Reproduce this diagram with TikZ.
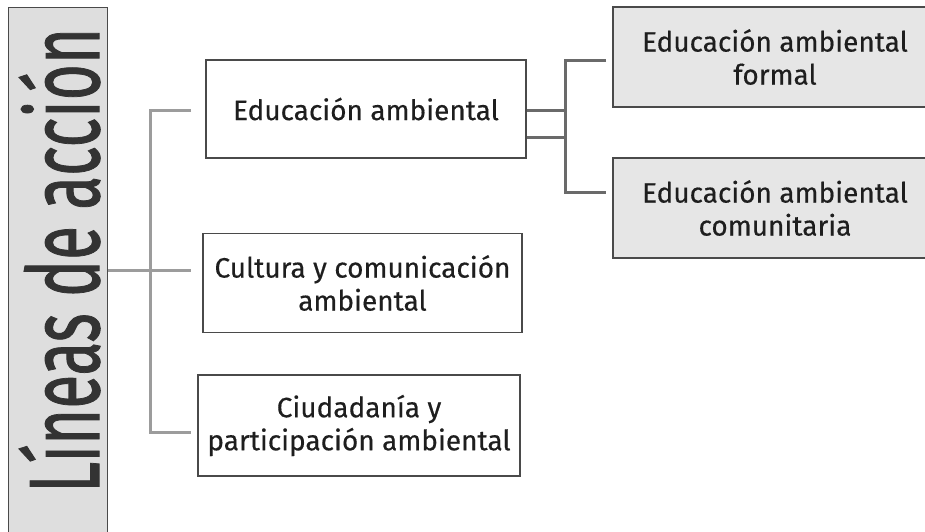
\documentclass[tikz,border=0pt]{standalone}
\usepackage{fontspec}
\setmainfont{Fira Sans}
\newfontfamily\titlefont[FakeBold=1.2]{Fira Sans}
\newfontfamily\boxfont[FakeBold=0.4]{Fira Sans}
\definecolor{boxline}{HTML}{4A4A4A}
\definecolor{grayfill}{HTML}{E6E6E6}
\definecolor{titlefill}{HTML}{DEDEDE}
\definecolor{txt}{HTML}{1E1E1E}
\definecolor{titletxt}{HTML}{333333}
\definecolor{llink}{HTML}{9C9C9C}
\definecolor{rlinkc}{HTML}{6A6A6A}
\begin{document}
\begin{tikzpicture}[x=1pt,y=-1pt,
  box/.style={draw=boxline, line width=1.1pt, fill=white, inner sep=0pt,
    align=center, text=txt, font=\boxfont\fontsize{28}{33}\selectfont},
  graybox/.style={box, fill=grayfill},
  link/.style={draw=llink, line width=3pt},
  rlink/.style={draw=rlinkc, line width=3pt}]
\useasboundingbox (0,0) rectangle (925,531);
\clip (0,0) rectangle (925,531);
\fill[white] (0,0) rectangle (925,531);
% title box
\node[box, fill=titlefill, minimum width=99pt, minimum height=540pt, anchor=north west] (la) at (8,7) {};
\node[rotate=90, anchor=base west, inner sep=0pt, text=titletxt] (lt) at (99,493)
  {\resizebox{465pt}{80pt}{\titlefont Líneas de acción}};
% level 1
\node[box, minimum width=320pt, minimum height=98pt] (ea) at (366,109) {Educación ambiental};
\node[box, minimum width=319pt, minimum height=99pt] (cc) at (362.5,283) {Cultura y comunicación\\ambiental};
\node[box, minimum width=322pt, minimum height=101pt] (cp) at (359,425.5) {Ciudadanía y\\participación ambiental};
% level 2
\node[graybox, minimum width=324pt, minimum height=100pt] (ef) at (775,57) {Educación ambiental\\formal};
\node[graybox, minimum width=324pt, minimum height=100pt] (ec) at (775,208) {Educación ambiental\\comunitaria};
% left bracket
\coordinate (v1) at (150,110);
\coordinate (v3) at (150,432);
\coordinate (e1) at (191,110);
\coordinate (e2) at (191,270);
\coordinate (e3) at (191,432);
\draw[link] (e1) -- (v1) -- (v3) -- (e3);
\draw[link] (la.east |- e2) -- (e2);
% right bracket
\coordinate (r1) at (565,60);
\coordinate (r2) at (565,192);
\coordinate (f1) at (606,60);
\coordinate (f2) at (606,192);
\coordinate (ra) at (565,110);
\coordinate (rb) at (565,137);
\draw[rlink] (f1) -- (r1) -- (r2) -- (f2);
\draw[rlink] (ea.east |- ra) -- (ra);
\draw[rlink] (ea.east |- rb) -- (rb);
\end{tikzpicture}
\end{document}
